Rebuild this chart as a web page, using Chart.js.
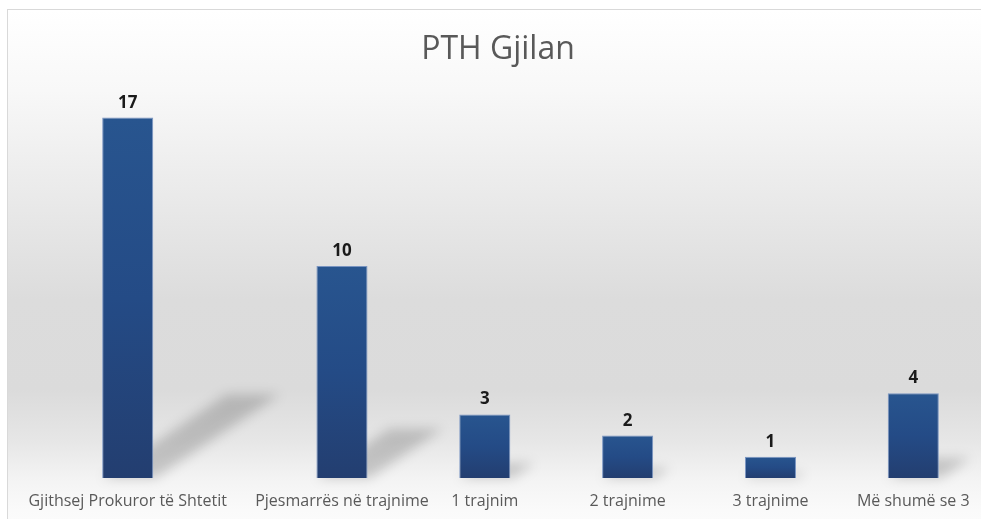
<!DOCTYPE html>
<html>
<head>
<meta charset="utf-8">
<script src="https://cdn.jsdelivr.net/npm/chart.js@4/dist/chart.umd.min.js"></script>
<style>
  html, body { margin: 0; padding: 0; background: #ffffff; overflow: hidden; }
  #frame {
    position: absolute; left: 7px; top: 9px; width: 1000px; height: 530px;
    border-left: 1px solid #d9d9d9; border-top: 1px solid #d9d9d9;
    background: linear-gradient(to bottom, #ffffff 0px, #f8f8f8 80px, #e8e8e8 200px, #dcdcdc 290px, #dbdbdb 380px, #e6e6e6 430px, #f3f3f3 468px, #fafafa 500px, #fdfdfd 530px);
  }
  #wrap { position: absolute; left: 0; top: 0; width: 981px; height: 519px; }
</style>
</head>
<body>
<div id="frame"></div>
<div id="wrap"><canvas id="c" width="981" height="519"></canvas></div>
<script>
// ---- data ----
const chartTitle = "PTH Gjilan";
const categories = ["Gjithsej Prokuror të Shtetit", "Pjesmarrës në trajnime", "1 trajnim", "2 trajnime", "3 trajnime", "Më shumë se 3"];
const values = [17, 10, 3, 2, 1, 4];

// ---- layout of category slots (first category is wider in the reference) ----
const slotIndex = [0, 3, 5, 7, 9, 11];
const slotCount = 12;

const slotLabels = new Array(slotCount).fill("");
const slotValues = new Array(slotCount).fill(null);
slotIndex.forEach((s, i) => { slotLabels[s] = categories[i]; slotValues[s] = values[i]; });

const barShadow = {
  id: 'barShadow',
  beforeDatasetsDraw(chart) {
    const ctx = chart.ctx;
    const meta = chart.getDatasetMeta(0);
    ctx.save();
    ctx.filter = 'blur(6px)';
    ctx.fillStyle = 'rgba(0,0,0,0.18)';
    meta.data.forEach((bar, i) => {
      if (slotValues[i] === null) return;
      const p = bar.getProps(['x', 'y', 'base', 'width'], true);
      const h = p.base - p.y;
      const l = p.x - p.width / 2, r = p.x + p.width / 2;
      const dx = 0.345 * h, dy = 0.232 * h;
      ctx.beginPath();
      ctx.moveTo(l, p.base);
      ctx.lineTo(r + 2, p.base);
      ctx.lineTo(r + 2 + dx, p.base - dy);
      ctx.lineTo(l + dx, p.base - dy);
      ctx.closePath();
      ctx.fill();
    });
    ctx.restore();
  }
};

const valueLabels = {
  id: 'valueLabels',
  afterDatasetsDraw(chart) {
    const ctx = chart.ctx;
    const meta = chart.getDatasetMeta(0);
    ctx.save();
    ctx.font = 'bold 17px "Open Sans", sans-serif';
    ctx.fillStyle = '#1a1a1a';
    ctx.textAlign = 'center';
    ctx.textBaseline = 'alphabetic';
    meta.data.forEach((bar, i) => {
      const v = slotValues[i];
      if (v === null) return;
      const p = bar.getProps(['x', 'y'], true);
      ctx.fillText(String(v), p.x, p.y - 10);
    });
    ctx.restore();
  }
};

new Chart(document.getElementById('c'), {
  type: 'bar',
  data: {
    labels: slotLabels,
    datasets: [{
      data: slotValues,
      backgroundColor: (c) => {
        const chart = c.chart;
        if (!chart.chartArea || !c.parsed || c.parsed.y == null) return '#244a86';
        const ys = chart.scales.y;
        const top = ys.getPixelForValue(c.parsed.y);
        const bot = ys.getPixelForValue(0);
        const g = chart.ctx.createLinearGradient(0, top, 0, bot);
        g.addColorStop(0, '#28558f');
        g.addColorStop(0.5, '#244b86');
        g.addColorStop(1, '#233e70');
        return g;
      },
      borderColor: 'rgba(110,140,190,0.9)',
      borderWidth: 1,
      barPercentage: 0.715,
      categoryPercentage: 1.0
    }]
  },
  options: {
    responsive: false,
    animation: false,
    devicePixelRatio: 1,
    layout: { padding: { left: 47, right: 32, top: 0, bottom: 0 } },
    plugins: {
      legend: { display: false },
      tooltip: { enabled: false },
      title: {
        display: true,
        text: chartTitle,
        color: '#595959',
        font: { family: '"Open Sans", sans-serif', size: 32, weight: 'normal', lineHeight: 1.2 },
        padding: { top: 31, bottom: 27 }
      }
    },
    scales: {
      x: {
        grid: { display: false, drawTicks: false },
        border: { display: false },
        ticks: {
          autoSkip: false, maxRotation: 0, minRotation: 0,
          color: '#595959',
          font: { family: '"Open Sans", sans-serif', size: 16 },
          padding: 14
        },
        afterFit: (s) => { s.height = 41; s.paddingLeft = 0; s.paddingRight = 0; }
      },
      y: {
        min: 0, max: 18,
        grid: { display: false, drawTicks: false },
        border: { display: false },
        ticks: { display: false },
        afterFit: (s) => { s.width = 45; }
      }
    }
  },
  plugins: [barShadow, valueLabels]
});
</script>
</body>
</html>
